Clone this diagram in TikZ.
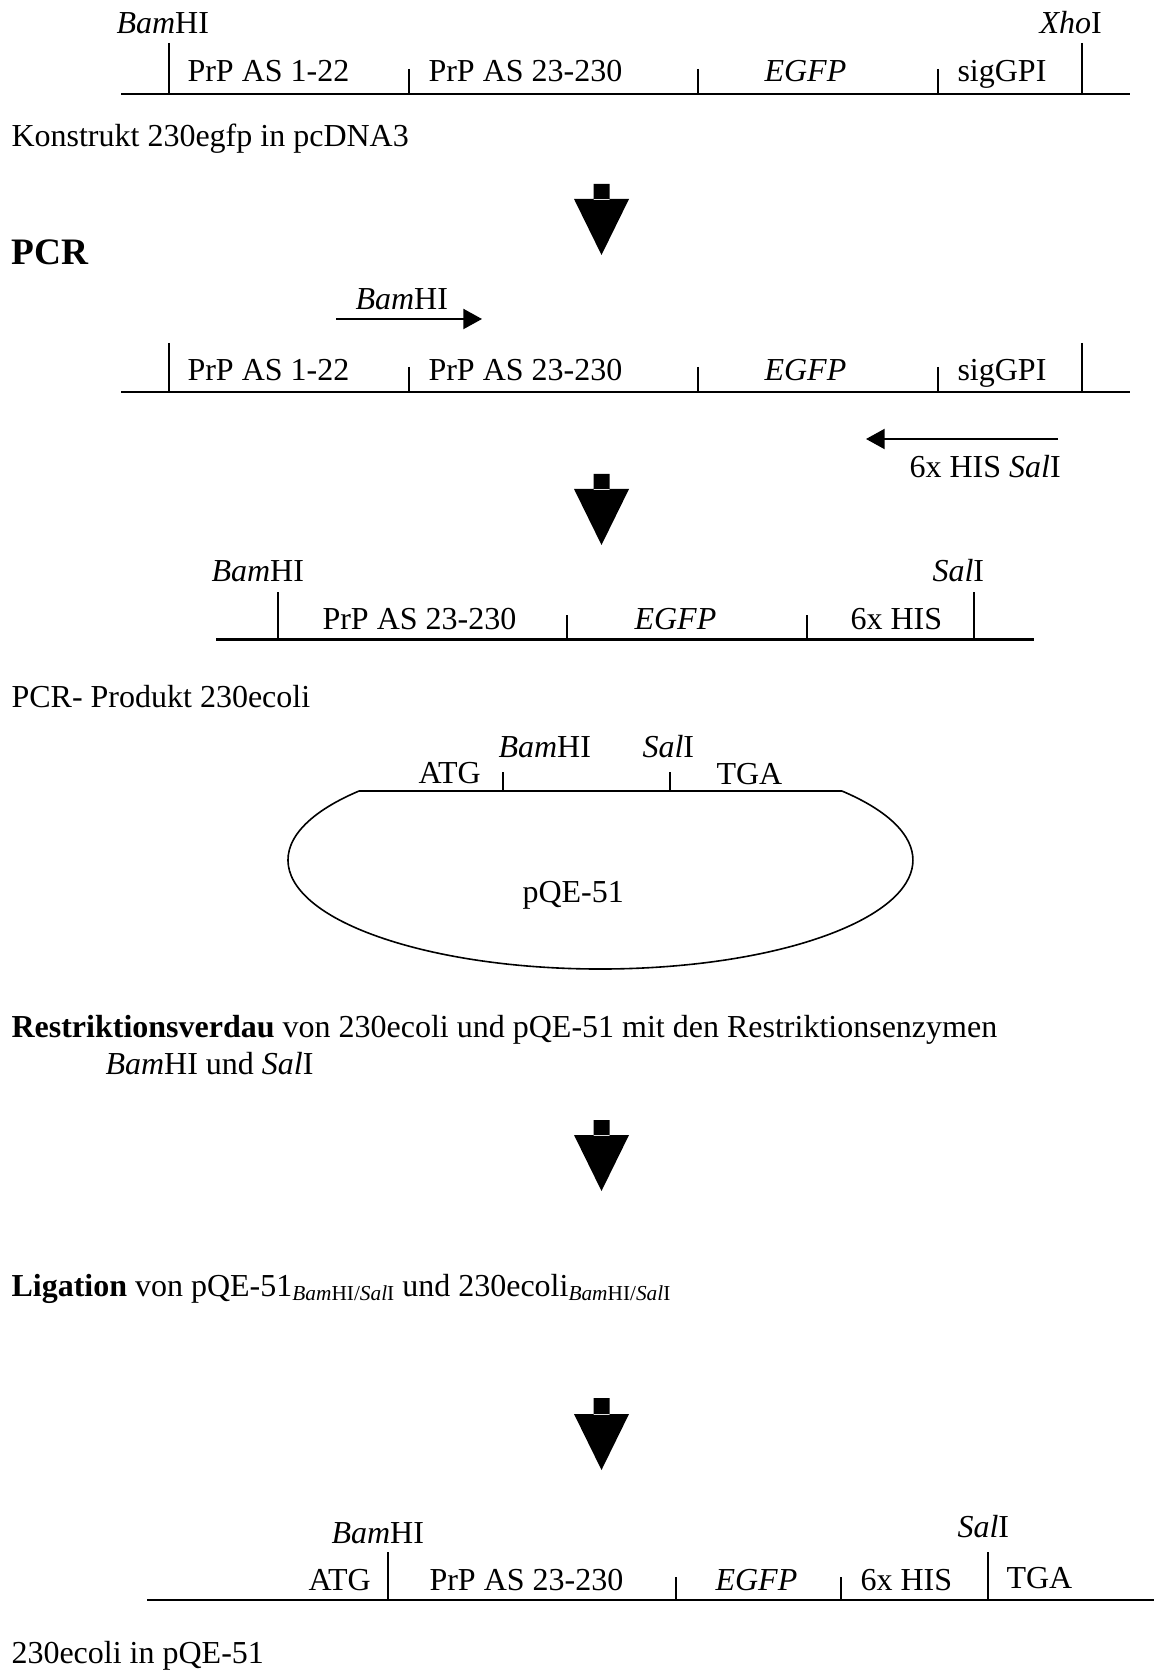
\documentclass[tikz,border=0pt]{standalone}
\usepackage{fontspec}
\setmainfont{Liberation Serif}
\usetikzlibrary{arrows.meta}
\newcommand{\bamsal}{\raisebox{-1.5pt}{\fontsize{8}{9}\selectfont\textit{Bam}HI/\textit{Sal}I}}

\begin{document}
\begin{tikzpicture}[x=0.375pt,y=-0.375pt,
    txt/.style={anchor=base west,inner sep=0pt,font=\fontsize{12}{14}\selectfont},
    dna/.style={line width=0.8pt},
    site/.style={line width=0.45pt},
    plasmid/.style={line width=0.6pt},
    primer/.style={line width=0.8pt,-{Triangle[length=7pt,width=7.5pt]}}]
  \useasboundingbox (0,0) rectangle (1154,1671);

  % 230egfp in pcDNA3
  \draw[dna] (121,94) -- (1130,94);
  \draw[site] (169,43) -- (169,94);
  \draw[site] (409,69) -- (409,94);
  \draw[site] (698,69) -- (698,94);
  \draw[site] (938,69) -- (938,94);
  \draw[site] (1082,43) -- (1082,94);
  \node[txt] (bam1) at (116,34) {\textit{Bam}HI};
  \node[txt] (xho1) at (1039,34) {\textit{Xho}I};
  \node[txt] (sig1) at (187,82) {PrP AS 1-22};
  \node[txt] (prp1) at (428,82) {PrP AS 23-230};
  \node[txt] (egfp1) at (764,82) {\textit{EGFP}};
  \node[txt] (gpi1) at (957,82) {sigGPI};
  \node[txt] (cap1) at (11,147) {Konstrukt 230egfp in pcDNA3};

  \fill (593.5,184) rectangle (609.5,200) (574,199) -- (629,199) -- (601.5,255) -- cycle;

  % PCR
  \node[txt,font=\fontsize{14}{17}\selectfont\bfseries] (pcr) at (11,265) {PCR};
  \node[txt] (bam2) at (355,310) {\textit{Bam}HI};
  \coordinate (fw0) at (336,319);
  \coordinate (fw1) at (482,319);
  \draw[primer] (fw0) -- (fw1);
  \draw[dna] (121,392) -- (1130,392);
  \draw[site] (169,343) -- (169,392);
  \draw[site] (409,367) -- (409,392);
  \draw[site] (698,367) -- (698,392);
  \draw[site] (938,367) -- (938,392);
  \draw[site] (1082,343) -- (1082,392);
  \node[txt] (sig2) at (187,381) {PrP AS 1-22};
  \node[txt] (prp2) at (428,381) {PrP AS 23-230};
  \node[txt] (egfp2) at (764,381) {\textit{EGFP}};
  \node[txt] (gpi2) at (957,381) {sigGPI};
  \coordinate (rv0) at (1058,439);
  \coordinate (rv1) at (866,439);
  \draw[primer] (rv0) -- (rv1);
  \node[txt] (his2) at (909,478) {6x HIS \textit{Sal}I};

  \fill (593.5,474) rectangle (609.5,490) (574,489) -- (629,489) -- (601.5,545) -- cycle;

  % PCR-Produkt
  \draw[dna] (216,639.5) -- (1034,639.5);
  \draw[site] (278,592) -- (278,639.5);
  \draw[site] (567,615) -- (567,639.5);
  \draw[site] (807,615) -- (807,639.5);
  \draw[site] (974,592) -- (974,639.5);
  \node[txt] (bam3) at (211,582) {\textit{Bam}HI};
  \node[txt] (sal3) at (932,582) {\textit{Sal}I};
  \node[txt] (prp3) at (322,629) {PrP AS 23-230};
  \node[txt] (egfp3) at (634,629) {\textit{EGFP}};
  \node[txt] (his3) at (850,629) {6x HIS};
  \node[txt] (cap3) at (11,707) {PCR- Produkt 230ecoli};

  % pQE-51
  \draw[dna] (359,791) -- (842,791);
  \draw[site] (503,772) -- (503,791);
  \draw[site] (670,772) -- (670,791);
  \draw[plasmid] (359,791) arc[start angle=219.4,end angle=-39.4,x radius=312.5,y radius=108.9];
  \node[txt] (atg4) at (418,783) {ATG};
  \node[txt] (bam4) at (498,757) {\textit{Bam}HI};
  \node[txt] (sal4) at (642,757) {\textit{Sal}I};
  \node[txt] (tga4) at (716,784) {TGA};
  \node[txt] (pqe4) at (522,902) {pQE-51};

  \node[txt] (verdau) at (11,1037) {\textbf{Restriktionsverdau} von 230ecoli und pQE-51 mit den Restriktionsenzymen};
  \node[txt] (enzyme) at (105,1074) {\textit{Bam}HI und \textit{Sal}I};

  \fill (593.5,1120) rectangle (609.5,1136) (574,1135) -- (629,1135) -- (601.5,1191) -- cycle;

  \node[txt] (ligation) at (11,1296) {\textbf{Ligation} von pQE-51\bamsal{} und 230ecoli\bamsal};

  \fill (593.5,1398) rectangle (609.5,1415) (574,1414) -- (629,1414) -- (601.5,1470) -- cycle;

  % 230ecoli in pQE-51
  \draw[dna] (147,1600) -- (1154,1600);
  \draw[site] (388,1552) -- (388,1600);
  \draw[site] (676,1577) -- (676,1600);
  \draw[site] (841,1577) -- (841,1600);
  \draw[site] (988,1552) -- (988,1600);
  \node[txt] (bam6) at (331,1543) {\textit{Bam}HI};
  \node[txt] (sal6) at (957,1537) {\textit{Sal}I};
  \node[txt] (atg6) at (308,1590) {ATG};
  \node[txt] (prp6) at (429,1590) {PrP AS 23-230};
  \node[txt] (egfp6) at (715,1590) {\textit{EGFP}};
  \node[txt] (his6) at (860,1590) {6x HIS};
  \node[txt] (tga6) at (1006,1588) {TGA};
  \node[txt] (cap6) at (11,1663) {230ecoli in pQE-51};
\end{tikzpicture}
\end{document}
